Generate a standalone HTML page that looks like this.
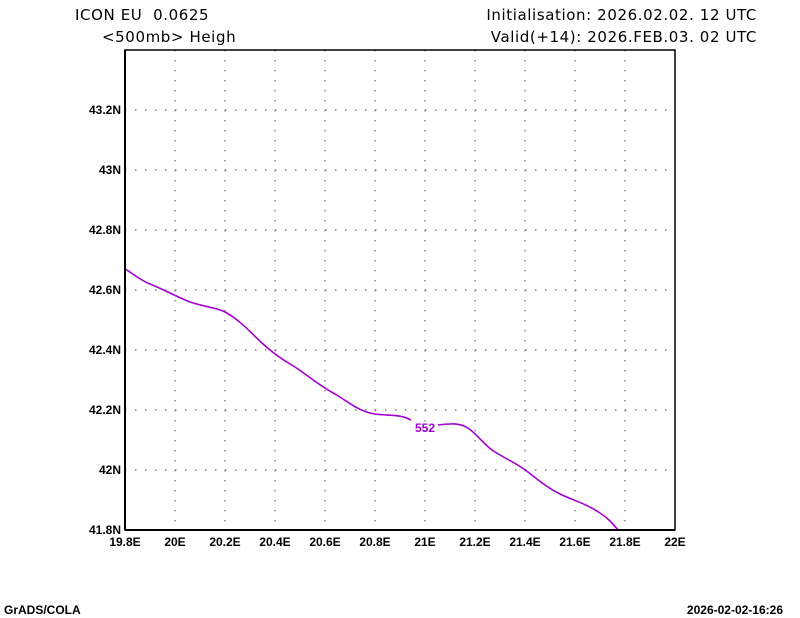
<!DOCTYPE html>
<html><head><style>
body{margin:0;background:#fff;}
svg{display:block;}
.t{font-family:"DejaVu Sans","Liberation Sans",sans-serif;font-size:15px;fill:#000;letter-spacing:0.6px;}
.a{font-family:"Liberation Sans",sans-serif;font-size:12px;font-weight:bold;fill:#000;}
</style></head><body>
<svg width="800" height="618" viewBox="0 0 800 618" xmlns="http://www.w3.org/2000/svg">
<rect width="800" height="618" fill="#fff"/>
<text class="t" x="75" y="20" xml:space="preserve">ICON EU  0.0625</text>
<text class="t" x="102" y="42">&lt;500mb&gt; Heigh</text>
<text class="t" x="757" y="20" text-anchor="end">Initialisation: 2026.02.02. 12 UTC</text>
<text class="t" x="757" y="42" text-anchor="end">Valid(+14): 2026.FEB.03. 02 UTC</text>
<g stroke="#777" stroke-width="1.4" stroke-dasharray="1.4,8.6">
<line x1="175" y1="50" x2="175" y2="530"/><line x1="225" y1="50" x2="225" y2="530"/>
<line x1="275" y1="50" x2="275" y2="530"/><line x1="325" y1="50" x2="325" y2="530"/>
<line x1="375" y1="50" x2="375" y2="530"/><line x1="425" y1="50" x2="425" y2="530"/>
<line x1="475" y1="50" x2="475" y2="530"/><line x1="525" y1="50" x2="525" y2="530"/>
<line x1="575" y1="50" x2="575" y2="530"/><line x1="625" y1="50" x2="625" y2="530"/>
<line x1="125" y1="110" x2="675" y2="110"/><line x1="125" y1="170" x2="675" y2="170"/>
<line x1="125" y1="230" x2="675" y2="230"/><line x1="125" y1="290" x2="675" y2="290"/>
<line x1="125" y1="350" x2="675" y2="350"/><line x1="125" y1="410" x2="675" y2="410"/>
<line x1="125" y1="470" x2="675" y2="470"/>
</g>
<path d="M125,269 C135,275 140,280 150,284 C165,290 175,296 190,302 C205,307 218,308 225,312 C240,320 250,332 262,343 C275,355 285,361 295,367 C310,377 320,386 335,394 C350,403 360,412 375,414 C390,416 400,414 411,420 M438,425 C448,424 458,422 468,428 C478,435 485,446 495,452 C508,460 518,464 528,472 C538,480 548,488 560,494 C572,500 585,503 600,513 C608,518 613,524 618,530" fill="none" stroke="#a000d0" stroke-width="1.6" stroke-linejoin="round"/>
<text x="425" y="432" text-anchor="middle" font-family="Liberation Sans,sans-serif" font-size="12" font-weight="bold" fill="#a000d0">552</text>
<rect x="125" y="50" width="550" height="480" fill="none" stroke="#000" stroke-width="1.5"/>
<line x1="125" y1="530" x2="675" y2="530" stroke="#000" stroke-width="2"/>
<line x1="125" y1="50" x2="125" y2="530" stroke="#000" stroke-width="2"/>
<g class="a" text-anchor="end">
<text x="121" y="114">43.2N</text><text x="121" y="174">43N</text><text x="121" y="234">42.8N</text>
<text x="121" y="294">42.6N</text><text x="121" y="354">42.4N</text><text x="121" y="414">42.2N</text>
<text x="121" y="474">42N</text><text x="121" y="534">41.8N</text>
</g>
<g class="a" text-anchor="middle">
<text x="125" y="546">19.8E</text><text x="175" y="546">20E</text><text x="225" y="546">20.2E</text>
<text x="275" y="546">20.4E</text><text x="325" y="546">20.6E</text><text x="375" y="546">20.8E</text>
<text x="425" y="546">21E</text><text x="475" y="546">21.2E</text><text x="525" y="546">21.4E</text>
<text x="575" y="546">21.6E</text><text x="625" y="546">21.8E</text><text x="675" y="546">22E</text>
</g>
<text class="a" x="4" y="614" font-size="10">GrADS/COLA</text>
<text class="a" x="783" y="614" text-anchor="end" font-size="10">2026-02-02-16:26</text>
</svg>
</body></html>
